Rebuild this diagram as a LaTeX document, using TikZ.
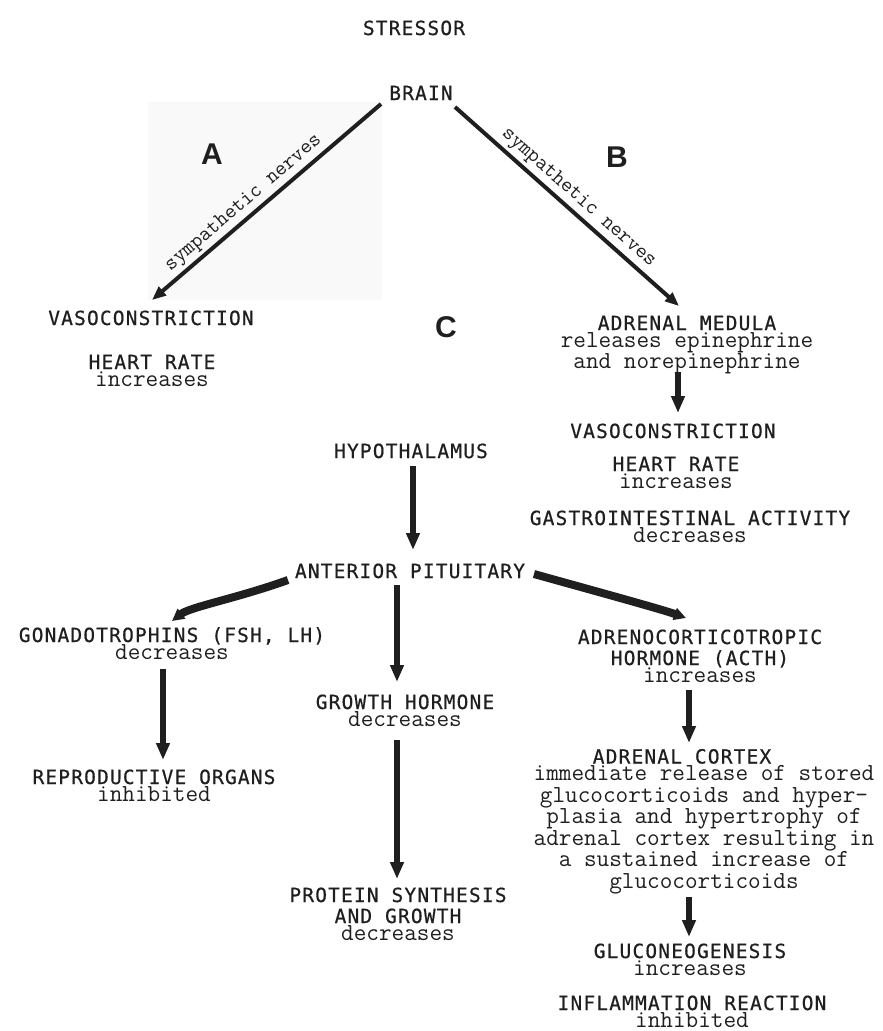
\documentclass[tikz,border=0pt]{standalone}
\usepackage{fontspec}
\usetikzlibrary{arrows.meta,calc}

\newfontfamily\capsfont[LetterSpace=6,FakeBold=0.6]{DejaVu Sans Mono}
\newfontfamily\markfont{Liberation Sans}
\newcommand{\capsset}{\capsfont\fontsize{19.5}{17}\selectfont\lineskiplimit=-100pt\relax}
\newcommand{\lowtxt}[1]{{\ttfamily\addfontfeature{FakeBold=1.2}\fontsize{24.5}{17}\selectfont #1}}

\begin{document}
\begin{tikzpicture}[x=1pt,y=-1pt,
    ink/.style={draw=black!88},
    nerve/.style={ink,line width=4pt,-{Triangle[length=14pt,width=11pt]}},
    vdown/.style={ink,line width=6pt,-{Triangle[length=17pt,width=13pt]}},
    brush/.style={ink,line width=8pt,-{Triangle[length=12pt,width=12pt]}},
    nervelab/.style={sloped,above,inner sep=3pt,text=black!88,font=\ttfamily\addfontfeature{FakeBold=1}\fontsize{21.5}{21}\selectfont}]

  \useasboundingbox (0,0) rectangle (883,1031);
  \fill[black!2.5] (148,102) rectangle (382,300);

  % base of a node with several lines = baseline of its last line
  \begin{scope}[every node/.style={anchor=base,align=center,text=black!88,font=\capsset}]
    \node (stressor)  at (414,35)   {STRESSOR};
    \node (brain)     at (421,100)  {BRAIN};
    \node (vasoA)     at (151,325)  {VASOCONSTRICTION};
    \node (heartA)    at (152,386)  {HEART RATE\\\lowtxt{increases}};
    \node (medulla)   at (687,368)  {ADRENAL MEDULA\\\lowtxt{releases epinephrine}\\[4pt]\lowtxt{and norepinephrine}};
    \node (vasoB)     at (673,438)  {VASOCONSTRICTION};
    \node (heartB)    at (676,488)  {HEART RATE\\\lowtxt{increases}};
    \node (gastro)    at (690,542)  {GASTROINTESTINAL ACTIVITY\\\lowtxt{decreases}};
    \node (hypo)      at (411,458)  {HYPOTHALAMUS};
    \node (pituitary) at (410,578)  {ANTERIOR PITUITARY};
    \node (gonad)     at (172,659)  {GONADOTROPHINS (FSH, LH)\\\lowtxt{decreases}};
    \node (repro)     at (154,801)  {REPRODUCTIVE ORGANS\\\lowtxt{inhibited}};
    \node (growth)    at (405,726)  {GROWTH HORMONE\\\lowtxt{decreases}};
    \node (protein)   at (398,940)  {PROTEIN SYNTHESIS\\[4pt]AND GROWTH\\\lowtxt{decreases}};
    \node (acth)      at (700,682)  {ADRENOCORTICOTROPIC\\[4pt]HORMONE (ACTH)\\\lowtxt{increases}};
    \node (cortex)    at (704,888)  {ADRENAL CORTEX\hspace*{44pt}\\\lowtxt{immediate release of stored}\\[4.5pt]\lowtxt{glucocorticoids and hyper-}\\[4.5pt]\lowtxt{plasia and hypertrophy of}\\[4.5pt]\lowtxt{adrenal cortex resulting in}\\[4.5pt]\lowtxt{a sustained increase of}\\[4.5pt]\lowtxt{glucocorticoids}};
    \node (gluconeo)  at (690,975)  {GLUCONEOGENESIS\\\lowtxt{increases}};
    \node (inflam)    at (692,1027) {INFLAMMATION REACTION\\\lowtxt{inhibited}};
  \end{scope}

  \begin{scope}[every node/.style={anchor=base,text=black!88,font=\markfont\bfseries\fontsize{30}{30}\selectfont}]
    \node (secA) at (212,164) {A};
    \node (secB) at (617,167) {B};
    \node (secC) at (446,337) {C};
  \end{scope}

  % sympathetic branches
  \draw[nerve] ($(brain.base)+(-40,4)$) -- ($(vasoA.base)+(1,-25)$)
    node[nervelab,pos=0.56] (nerveA) {sympathetic nerves};
  \draw[nerve] ($(brain.base)+(34,7)$) -- ($(medulla.base)+(-8,-62)$)
    node[nervelab,pos=0.51] (nerveB) {sympathetic nerves};
  \draw[vdown] ($(medulla.base)+(-9,4)$) -- ($(vasoB.base)+(5,-25)$);

  % hypothalamus - pituitary axis
  \draw[vdown] ($(hypo.base)+(2,8)$) -- ($(pituitary.base)+(3,-28)$);
  \draw[brush] ($(pituitary.base)+(-122,2)$) .. controls +(-50,18) and +(18,-14) .. ($(gonad.base)+(0,-38)$);
  \draw[vdown] ($(pituitary.base)+(-13,7)$) -- ($(growth.base)+(-8,-44)$);
  \draw[brush] ($(pituitary.base)+(124,-4)$) .. controls +(50,14) and +(-25,-9) .. ($(acth.base)+(-14,-64)$);
  \draw[vdown] ($(gonad.base)+(-9,10)$) -- ($(repro.base)+(9,-41)$);
  \draw[vdown] ($(growth.base)+(-8,14)$) -- ($(protein.base)+(-1,-61)$);
  \draw[vdown] ($(acth.base)+(-11,8)$) -- ($(cortex.base)+(-15,-145)$);
  \draw[vdown] ($(cortex.base)+(-15,9)$) -- ($(gluconeo.base)+(-1,-38)$);

\end{tikzpicture}
\end{document}
